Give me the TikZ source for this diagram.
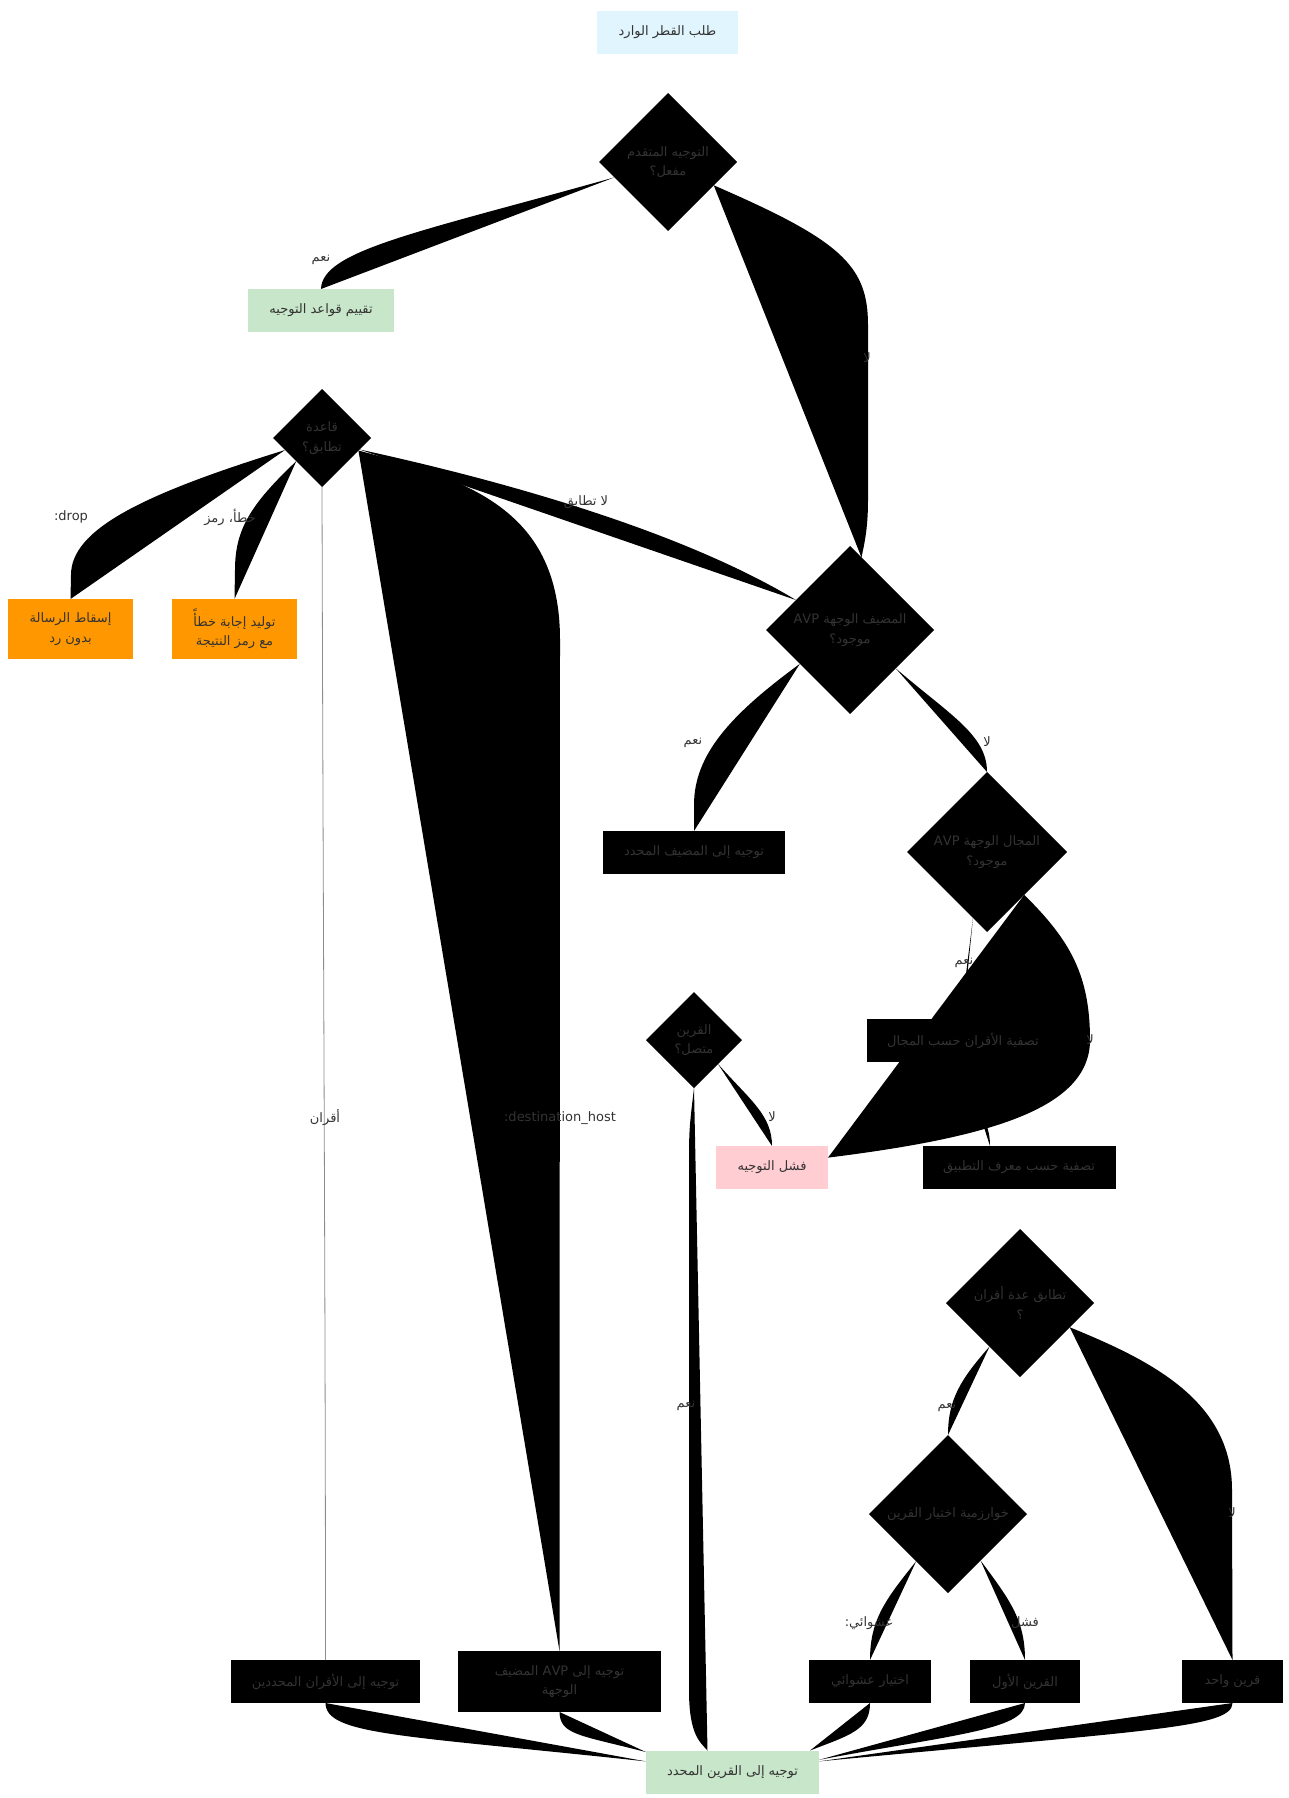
\documentclass[tikz,border=0pt]{standalone}
\usepackage{fontspec}
\setmainfont{DejaVu Sans}
\newfontfamily\arabicfont[Script=Arabic]{DejaVu Sans}
\TeXXeTstate=1
\usetikzlibrary{shapes.geometric,calc}
\pgfdeclarelayer{bg}
\pgfsetlayers{bg,main}
\definecolor{txt}{HTML}{333333}
\definecolor{startc}{HTML}{E1F5FE}
\definecolor{okc}{HTML}{C8E6C9}
\definecolor{orangec}{HTML}{FF9800}
\definecolor{failc}{HTML}{FFCDD2}
\newcommand\AR[1]{{\arabicfont\beginR #1\endR}}
\begin{document}
\begin{tikzpicture}[x=1pt,y=-1pt,
  base/.style={inner sep=0pt, outer sep=0pt, text=txt, font=\fontsize{13}{19.5}\selectfont, align=center},
  box/.style={base, rectangle, draw=none},
  dbox/.style={box, fill=black},
  diam/.style={base, diamond, aspect=1, fill=black, draw=none},
  conn/.style={fill=black, draw=none},
  flat/.style={draw=none, fill=none},
  lbl/.style={inner sep=0pt, text=txt, font=\fontsize{13}{19.5}\selectfont}]
\useasboundingbox (0,0) rectangle (1289,1798);
% nodes
\node[box, fill=startc, minimum width=141, minimum height=43] (start) at (667.5,32.5) {\AR{طلب القطر الوارد}};
\node[diam, minimum size=138] (d1) at (668,162) {\AR{التوجيه المتقدم}\\\AR{مفعل؟}};
\node[box, fill=okc, minimum width=146, minimum height=43] (eval) at (321,310.5) {\AR{تقييم قواعد التوجيه}};
\node[diam, minimum size=98] (d2) at (322,438) {\AR{قاعدة}\\\AR{تطابق؟}};
\node[box, fill=orangec, minimum width=125, minimum height=60] (drop) at (70.5,629) {\AR{إسقاط الرسالة}\\\AR{بدون رد}};
\node[box, fill=orangec, minimum width=125, minimum height=60] (err) at (234.5,629) {\AR{توليد إجابة خطأً}\\\AR{مع رمز النتيجة}};
\node[diam, minimum size=168] (d3) at (850,630) {\AR{المضيف الوجهة \beginL AVP\endL}\\\AR{موجود؟}};
\node[dbox, minimum width=182, minimum height=43] (rhost) at (694,852.5) {\AR{توجيه إلى المضيف المحدد}};
\node[diam, minimum size=160] (d4) at (987,852) {\AR{المجال الوجهة \beginL AVP\endL}\\\AR{موجود؟}};
\node[dbox, minimum width=192, minimum height=43] (filt) at (963,1040.5) {\AR{تصفية الأقران حسب المجال}};
\node[diam, minimum size=96] (d5) at (694,1040) {\AR{القرين}\\\AR{متصل؟}};
\node[box, fill=failc, minimum width=112, minimum height=43] (fail) at (772,1167.5) {\AR{فشل التوجيه}};
\node[dbox, minimum width=193, minimum height=43] (appid) at (1019,1167.5) {\AR{تصفية حسب معرف التطبيق}};
\node[diam, minimum size=148] (d6) at (1020,1303) {\AR{تطابق عدة أقران}\\\AR{؟}};
\node[diam, minimum size=158] (d7) at (948,1514) {\AR{خوارزمية اختيار القرين}};
\node[dbox, minimum width=189, minimum height=43] (peers) at (325.5,1681.5) {\AR{توجيه إلى الأقران المحددين}};
\node[dbox, minimum width=203, minimum height=61] (avp) at (559.5,1681.5) {\AR{توجيه إلى \beginL AVP\endL{} المضيف}\\\AR{الوجهة}};
\node[dbox, minimum width=122, minimum height=43] (random) at (870,1681.5) {\AR{اختيار عشوائي}};
\node[dbox, minimum width=110, minimum height=43] (first) at (1025,1681.5) {\AR{القرين الأول}};
\node[dbox, minimum width=101, minimum height=43] (single) at (1232.5,1681.5) {\AR{قرين واحد}};
\node[box, fill=okc, minimum width=173, minimum height=43] (endn) at (732.5,1772) {\AR{توجيه إلى القرين المحدد}};
% connectors
\begin{pgfonlayer}{bg}
\path[flat] (start.south) -- (d1.north);
\fill[conn] (d1.196) .. controls (420,232) and (322,250) .. (eval.north);
\fill[conn] (d1.-27) .. controls (840,240) and (868,265) .. (868,325) -- (868,500) .. controls (868,530) and (864,545) .. (d3.81);
\path[flat] (eval.south) -- (d2.north);
\fill[conn] (d2.198) .. controls (140,495) and (71,530) .. (71,575) -- (drop.north);
\fill[conn] (d2.222) .. controls (250,505) and (235,530) .. (235,570) -- (err.north);
\draw[black!45, line width=0.8pt] (d2.south) .. controls (323,900) and (325.5,1300) .. (peers.north);
\fill[conn] (d2.-19) .. controls (470,480) and (560,510) .. (560,640) -- (avp.north);
\fill[conn] (d2.-17) .. controls (500,480) and (680,530) .. (d3.151);
\fill[conn] (d3.214) .. controls (730,715) and (694,755) .. (694,805) -- (rhost.north);
\fill[conn] (d3.-40) .. controls (950,715) and (987,735) .. (d4.north);
\path[flat] (rhost.south) -- (d5.north);
\fill[conn] (d4.258) .. controls (968,960) and (963,990) .. (filt.north);
\fill[conn] (d4.-49) .. controls (1070,940) and (1090,975) .. (1090,1040) .. controls (1090,1110) and (985,1138) .. (fail.10);
\fill[conn] (filt.south) .. controls (963,1100) and (990,1110) .. ($(appid.north)+(-29,0)$);
\path[flat] (appid.south) -- (d6.north);
\fill[conn] (d5.-45) .. controls (750,1100) and (772,1115) .. (fail.north);
\fill[conn] (d5.south) .. controls (689,1130) .. (689,1170) -- (689,1690) .. controls (689,1735) and (700,1742) .. ($(endn.north)+(-25,0)$);
\fill[conn] (d6.235) .. controls (960,1380) and (948,1400) .. (d7.north);
\fill[conn] (d6.-26) .. controls (1150,1360) and (1232,1400) .. (1232,1490) -- (single.north);
\fill[conn] (d7.236) .. controls (885,1600) and (870,1620) .. (random.north);
\fill[conn] (d7.-55) .. controls (1010,1600) and (1025,1620) .. (first.north);
\fill[conn] (peers.south) .. controls (326,1735) and (400,1735) .. (endn.173);
\fill[conn] (avp.south) .. controls (560,1735) and (580,1735) .. (endn.167);
\fill[conn] (random.south) .. controls (870,1730) and (850,1735) .. ($(endn.north east)+(-9,0)$);
\fill[conn] (first.south) .. controls (1025,1730) and (950,1735) .. (endn.8);
\fill[conn] (single.south) .. controls (1232,1728) and (1150,1730) .. (endn.7);
% edge labels
\node[lbl] (l1) at (321,260) {\AR{نعم}};
\node[lbl] (l2) at (867,358) {\AR{لا}};
\node[lbl] (l3) at (71,517) {:drop};
\node[lbl] (l4) at (230,517) {\AR{خطأ، رمز}};
\node[lbl] (l5) at (586,502) {\AR{لا تطابق}};
\node[lbl] (l6) at (325,1118) {\AR{أقران}};
\node[lbl] (l7) at (560,1118) {:destination\_host};
\node[lbl] (l8) at (693,743) {\AR{نعم}};
\node[lbl] (l9) at (987,742) {\AR{لا}};
\node[lbl] (l10) at (964,963) {\AR{نعم}};
\node[lbl] (l11) at (1090,1040) {\AR{لا}};
\node[lbl] (l12) at (772,1117) {\AR{لا}};
\node[lbl] (l13) at (686,1406) {\AR{نعم}};
\node[lbl] (l14) at (947,1407) {\AR{نعم}};
\node[lbl] (l15) at (1232,1513) {\AR{لا}};
\node[lbl] (l16) at (869,1623) {\AR{عشوائي:}};
\node[lbl] (l17) at (1025,1623) {\AR{فشل}};
\end{pgfonlayer}
\end{tikzpicture}
\end{document}
